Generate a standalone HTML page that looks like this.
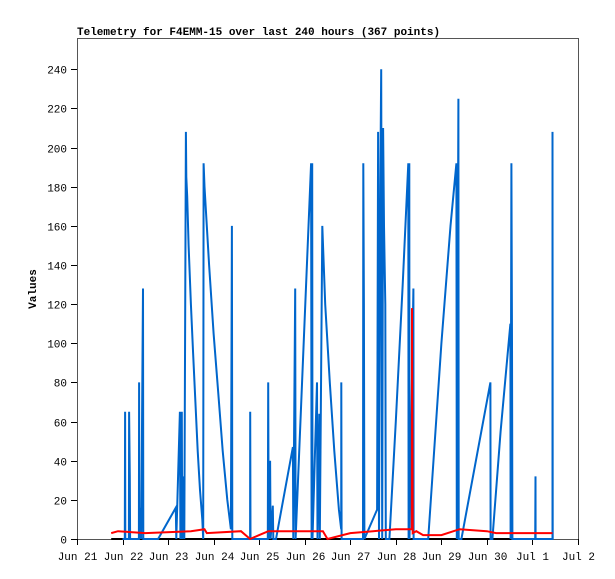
<!DOCTYPE html>
<html><head><meta charset="utf-8"><style>
body{margin:0;background:#fff;}
svg{display:block;font-family:"Liberation Mono",monospace;}
</style></head><body>
<svg id="chart" width="615" height="579">
<rect x="0" y="0" width="615" height="579" fill="#fff"/>
<text x="77" y="35" font-size="11" font-weight="bold">Telemetry for F4EMM-15 over last 240 hours (367 points)</text>
<text x="36" y="289" font-size="11" font-weight="bold" text-anchor="middle" transform="rotate(-90 36 289)">Values</text>
<rect x="77.5" y="38.5" width="501" height="501" fill="none" stroke="#555"/>
<g id="axes"></g>
<g id="series"></g>
</svg>
<script>
const xTickLabels=["Jun 21","Jun 22","Jun 23","Jun 24","Jun 25","Jun 26","Jun 27","Jun 28","Jun 29","Jun 30","Jul 1","Jul 2"];
const yTicks=[0,20,40,60,80,100,120,140,160,180,200,220,240];
const blueDays=[1.0,1.05,1.055,1.06,1.14,1.143,1.16,1.165,1.36,1.363,1.37,1.405,1.41,1.45,1.455,1.78,2.17,2.18,2.26,2.27,2.30,2.31,2.35,2.355,2.39,2.40,2.42,2.45,2.5,2.55,2.6,2.65,2.7,2.75,2.77,2.78,2.8,2.9,3.0,3.1,3.2,3.3,3.38,3.40,3.41,3.80,3.802,3.81,4.19,4.198,4.21,4.24,4.25,4.30,4.31,4.37,4.74,4.75,4.79,4.80,5.14,5.15,5.165,5.17,5.27,5.28,5.32,5.33,5.385,5.45,5.55,5.65,5.75,5.80,5.802,5.81,5.89,6.28,6.286,6.30,6.31,6.59,6.61,6.63,6.66,6.68,6.70,6.72,6.74,6.77,6.78,6.86,7.0,7.15,7.275,7.28,7.297,7.30,7.385,7.39,7.71,8.0,8.2,8.33,8.34,8.374,8.38,8.44,9.077,9.08,9.12,9.3,9.516,9.52,9.538,9.55,9.56,10.06,10.066,10.07,10.44,10.441,10.445];
const blueValues=[0,0,65,0,0,65,32,0,0,80,0,16,0,128,0,0,16,0,65,0,65,0,32,0,208,185,175,150,120,95,70,45,25,10,0,192,180,140,105,75,45,20,5,160,0,0,65,0,0,80,0,40,0,17,0,0,47,0,128,0,192,0,192,0,80,0,64,0,160,120,80,45,15,5,80,0,0,0,192,120,0,15,208,0,180,240,0,210,160,120,0,0,60,130,192,0,192,0,128,0,0,100,160,192,0,225,0,0,80,0,0,55,110,0,192,100,0,0,32,0,0,208,0];
const redDays=[0.75,0.9,1.5,2.5,2.8,2.85,3.6,3.8,4.0,4.2,5.4,5.5,6.0,6.5,7.0,7.35,7.355,7.37,7.45,7.6,8.0,8.4,9.0,9.2,10.44];
const redValues=[3,4,3,4,5,3,4,0,2,4,4,0,3,4,5,5,118,3,4,2,2,5,4,3,3];
const zeroDays=[0.75,10.44];
const zeroValues=[0,0];
const X0=77,X1=578,Y0=539,YMAX=256;
const xs=d=>X0+d*(X1-X0)/11;
const ys=v=>Y0-v*(Y0-38)/YMAX;
const NS="http://www.w3.org/2000/svg";
const axes=document.getElementById('axes'),series=document.getElementById('series');
xTickLabels.forEach((lab,i)=>{
 const x=Math.round(xs(i))+0.5;
 const t=document.createElementNS(NS,'line');
 t.setAttribute('x1',x);t.setAttribute('x2',x);t.setAttribute('y1',539);t.setAttribute('y2',545);t.setAttribute('stroke','#000');
 
 
 axes.appendChild(t);
 const tx=document.createElementNS(NS,'text');
 tx.setAttribute('x',x);tx.setAttribute('y',560);tx.setAttribute('font-size','11');tx.setAttribute('text-anchor','middle');
 tx.textContent=lab;
 
 
 axes.appendChild(tx);
});
yTicks.forEach(v=>{
 const y=Math.round(ys(v))+0.5;
 const t=document.createElementNS(NS,'line');
 t.setAttribute('x1',71);t.setAttribute('x2',77);t.setAttribute('y1',y);t.setAttribute('y2',y);t.setAttribute('stroke','#000');
 
 
 axes.appendChild(t);
 const tx=document.createElementNS(NS,'text');
 tx.setAttribute('x',67);tx.setAttribute('y',y+4);tx.setAttribute('font-size','11');tx.setAttribute('text-anchor','end');
 tx.textContent=v;
 
 
 axes.appendChild(tx);
});
function line(days,vals,color,w,name){
 const p=document.createElementNS(NS,'polyline');
 p.setAttribute('points',days.map((d,i)=>xs(d).toFixed(1)+','+ys(vals[i]).toFixed(1)).join(' '));
 p.setAttribute('fill','none');p.setAttribute('stroke',color);p.setAttribute('stroke-width',w);p.setAttribute('stroke-linejoin','miter');
 
 
 series.appendChild(p);
}
line(zeroDays,zeroValues,'#000',2,'zero-series-line');
line(blueDays,blueValues,'#0066cc',2,'blue-series-line');
line(redDays,redValues,'#ff0000',2,'red-series-line');
</script>
</body></html>
